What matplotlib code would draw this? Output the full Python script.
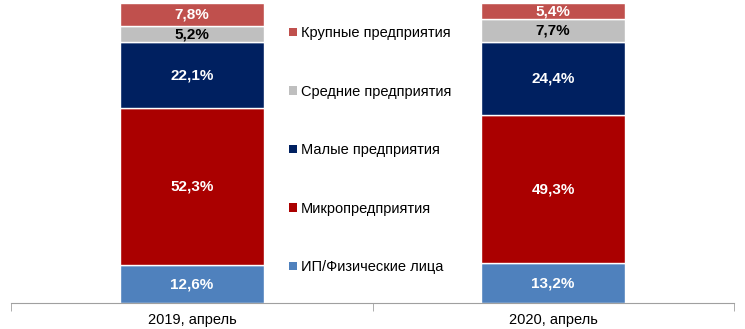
import matplotlib.pyplot as plt
from matplotlib.patches import Patch

plt.rcParams['font.family'] = ['Liberation Sans', 'DejaVu Sans']

categories = ['2019, апрель', '2020, апрель']
series = ['ИП/Физические лица', 'Микропредприятия', 'Малые предприятия',
          'Средние предприятия', 'Крупные предприятия']
values = {
    'ИП/Физические лица': [12.6, 13.2],
    'Микропредприятия': [52.3, 49.3],
    'Малые предприятия': [22.1, 24.4],
    'Средние предприятия': [5.2, 7.7],
    'Крупные предприятия': [7.8, 5.4],
}
colors = ['#4F81BD', '#AA0000', '#002060', '#BFBFBF', '#C0504D']
text_colors = ['white', 'white', 'white', 'black', 'white']

fig = plt.figure(figsize=(7.45, 3.29), dpi=100)
ax = fig.add_axes([0.0154, 0.079, 0.9692, 0.912])

x = range(len(categories))
bottom = [0.0] * len(categories)
for name, col, tcol in zip(series, colors, text_colors):
    vals = values[name]
    ax.bar(x, vals, width=0.4, bottom=bottom, color=col,
           edgecolor='white', linewidth=1.0)
    for i, v in enumerate(vals):
        ax.text(i, bottom[i] + v / 2, f'{v:.1f}%'.replace('.', ','),
                ha='center', va='center', color=tcol,
                fontsize=11, fontweight='bold')
    bottom = [b + v for b, v in zip(bottom, vals)]

ax.set_xlim(-0.5, 1.5)
ax.set_ylim(0, 100)
ax.set_yticks([])
for s in ['left', 'right', 'top']:
    ax.spines[s].set_visible(False)
ax.spines['bottom'].set_color('#A0A0A0')

ax.set_xticks(list(x))
ax.set_xticklabels(categories, fontsize=10.5)
ax.tick_params(axis='x', which='major', length=0, pad=7)
ax.set_xticks([-0.5, 0.5, 1.5], minor=True)
ax.tick_params(axis='x', which='minor', length=6, color='#A0A0A0')

handles = [Patch(facecolor=c, edgecolor='none') for c in colors][::-1]
ax.legend(handles, series[::-1], loc='upper left',
          bbox_to_anchor=(0.376, 0.942), frameon=False, fontsize=10.5,
          handlelength=0.55, handleheight=0.55, handletextpad=0.3,
          labelspacing=3.05, borderaxespad=0)

fig.savefig('out.png', dpi=100)
